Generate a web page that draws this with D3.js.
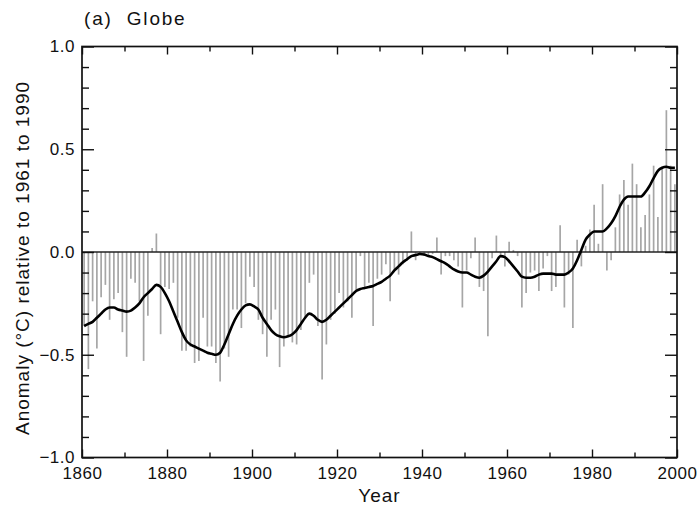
<!DOCTYPE html>
<meta charset="utf-8">
<style>
body{margin:0;background:#fff}
text{font-family:'Liberation Sans',Arial,sans-serif;fill:#111}
</style>
<svg id="svg" width="697" height="509"></svg>
<script src="https://d3js.org/d3.v7.min.js"></script>
<script>

  // annual global anomalies, first value = 1861
  var firstYear = 1861
  var annual = [
    -0.36, -0.57, -0.24, -0.47, -0.22, -0.16, -0.33, -0.23, -0.20, -0.39,  // 1861-1870
    -0.51, -0.13, -0.15, -0.24, -0.53, -0.31,  0.02,  0.09, -0.40, -0.17,  // 1871-1880
    -0.18, -0.15, -0.32, -0.48, -0.48, -0.46, -0.54, -0.53, -0.32, -0.46,  // 1881-1890
    -0.46, -0.54, -0.63, -0.47, -0.51, -0.28, -0.28, -0.37, -0.25, -0.12,  // 1891-1900
    -0.17, -0.33, -0.40, -0.51, -0.33, -0.28, -0.56, -0.46, -0.41, -0.44,  // 1901-1910
    -0.45, -0.38, -0.32, -0.15, -0.11, -0.36, -0.62, -0.45, -0.33, -0.30,  // 1911-1920
    -0.20, -0.27, -0.24, -0.32, -0.19, -0.02, -0.17, -0.15, -0.36, -0.13,  // 1921-1930
    -0.11, -0.06, -0.24, -0.09, -0.11, -0.06, -0.04,  0.10, -0.04, -0.01,  // 1931-1940
    -0.02, -0.02, -0.01,  0.07, -0.11, -0.02, -0.02, -0.04, -0.07, -0.27,  // 1941-1950
    -0.09, -0.03,  0.07, -0.17, -0.19, -0.41, -0.03,  0.08, -0.02, -0.07,  // 1951-1960
     0.05,  0.01, -0.02, -0.27, -0.20, -0.10, -0.09, -0.19, -0.08, -0.02,  // 1961-1970
    -0.19, -0.17,  0.13, -0.27, -0.11, -0.37,  0.06, -0.07,  0.03,  0.11,  // 1971-1980
     0.23,  0.04,  0.33, -0.09, -0.04,  0.12,  0.28,  0.35,  0.23,  0.43,  // 1981-1990
     0.33,  0.12,  0.18,  0.28,  0.42,  0.17,  0.41,  0.69,  0.42,  0.33   // 1991-2000
  ]

  // smoothed curve, same years
  var smooth = [
    -0.36, -0.35, -0.34, -0.32, -0.30, -0.28, -0.27, -0.27, -0.28, -0.285,
    -0.29, -0.285, -0.27, -0.25, -0.22, -0.20, -0.18, -0.16, -0.17, -0.20,
    -0.24, -0.29, -0.34, -0.39, -0.43, -0.45, -0.46, -0.47, -0.48, -0.49,
    -0.495, -0.50, -0.49, -0.45, -0.40, -0.35, -0.31, -0.28, -0.26, -0.255,
    -0.265, -0.28, -0.32, -0.35, -0.38, -0.40, -0.41, -0.415, -0.41, -0.40,
    -0.38, -0.35, -0.32, -0.30, -0.31, -0.33, -0.34, -0.33, -0.31, -0.29,
    -0.27, -0.25, -0.23, -0.21, -0.19, -0.18, -0.175, -0.17, -0.165, -0.155,
    -0.145, -0.13, -0.115, -0.09, -0.07, -0.05, -0.035, -0.02, -0.015, -0.01,
    -0.012, -0.02, -0.025, -0.035, -0.045, -0.055, -0.07, -0.085, -0.095, -0.10,
    -0.10, -0.11, -0.12, -0.125, -0.115, -0.095, -0.07, -0.045, -0.02, -0.025,
    -0.045, -0.07, -0.095, -0.12, -0.125, -0.125, -0.12, -0.11, -0.105, -0.105,
    -0.105, -0.11, -0.11, -0.11, -0.10, -0.08, -0.04, 0.01, 0.06, 0.085,
    0.10, 0.10, 0.10, 0.115, 0.14, 0.175, 0.22, 0.255, 0.27, 0.27,
    0.27, 0.27, 0.29, 0.32, 0.36, 0.395, 0.41, 0.415, 0.41, 0.41
  ]

  var xLabels = [1860, 1880, 1900, 1920, 1940, 1960, 1980, 2000]
  var xMinor = [1870, 1890, 1910, 1930, 1950, 1970, 1990]
  var yLabels = [-1.0, -0.5, 0.0, 0.5, 1.0]
  var yMinor = [-0.9, -0.8, -0.7, -0.6, -0.4, -0.3, -0.2, -0.1, 0.1, 0.2, 0.3, 0.4, 0.6, 0.7, 0.8, 0.9]

  var title = '(a)  Globe'
  var xTitle = 'Year'
  var yTitle = 'Anomaly (\u00B0C) relative to 1961 to 1990'

  // plot box
  var pL = 82, pR = 677, pT = 46.5, pB = 457.5

  var x = d3.scaleLinear().domain([1860, 2000]).range([pL, pR])
  var y = d3.scaleLinear().domain([-1, 1]).range([pB, pT])

  var data = annual.map((v, i) => ({year: firstYear + i, value: v, smooth: smooth[i]}))

  var svg = d3.select('#svg')

  // annual bars (drawn half a year to the left, as in the original)
  svg.append('g')
    .selectAll('line')
    .data(data)
    .enter().append('line')
      .attr('x1', d => x(d.year - 0.5))
      .attr('x2', d => x(d.year - 0.5))
      .attr('y1', y(0))
      .attr('y2', d => y(d.value))
      .attr('stroke', '#a6a6a6')
      .attr('stroke-width', 1.7)

  // zero line
  svg.append('line')
    .attr('x1', pL).attr('x2', pR)
    .attr('y1', y(0)).attr('y2', y(0))
    .attr('stroke', '#222').attr('stroke-width', 1.7)

  // smoothed curve
  var line = d3.line()
    .x(d => x(d.year - 0.5))
    .y(d => y(d.smooth))
    .curve(d3.curveMonotoneX)

  svg.append('path')
    .datum(data)
    .attr('d', line)
    .attr('fill', 'none')
    .attr('stroke', '#000')
    .attr('stroke-width', 2.6)
    .attr('stroke-linejoin', 'round')

  // axes, ticks pointing inward
  function axisStyle(g) {
    g.select('.domain').remove()
    g.selectAll('line').attr('stroke', '#111').attr('stroke-width', 1.4)
    g.selectAll('text').style('font-size', '17px').style('letter-spacing', '0.5px').attr('fill', '#111')
  }

  svg.append('g').attr('transform', 'translate(0,' + pB + ')')
    .call(d3.axisBottom(x).tickValues(xLabels).tickSize(-8).tickPadding(9).tickFormat(d3.format('d')))
    .call(axisStyle)
  svg.append('g').attr('transform', 'translate(0,' + pB + ')')
    .call(d3.axisBottom(x).tickValues(xMinor).tickSize(-5).tickFormat(''))
    .call(axisStyle)
  svg.append('g').attr('transform', 'translate(0,' + pT + ')')
    .call(d3.axisTop(x).tickValues(xLabels).tickSize(-8).tickFormat(''))
    .call(axisStyle)
  svg.append('g').attr('transform', 'translate(0,' + pT + ')')
    .call(d3.axisTop(x).tickValues(xMinor).tickSize(-5).tickFormat(''))
    .call(axisStyle)

  svg.append('g').attr('transform', 'translate(' + pL + ',0)')
    .call(d3.axisLeft(y).tickValues(yLabels).tickSize(-12).tickPadding(7).tickFormat(d3.format('.1f')))
    .call(axisStyle)
  svg.append('g').attr('transform', 'translate(' + pL + ',0)')
    .call(d3.axisLeft(y).tickValues(yMinor).tickSize(-7).tickFormat(''))
    .call(axisStyle)
  svg.append('g').attr('transform', 'translate(' + pR + ',0)')
    .call(d3.axisRight(y).tickValues(yLabels).tickSize(-12).tickFormat(''))
    .call(axisStyle)
  svg.append('g').attr('transform', 'translate(' + pR + ',0)')
    .call(d3.axisRight(y).tickValues(yMinor).tickSize(-7).tickFormat(''))
    .call(axisStyle)

  // frame
  svg.append('rect')
    .attr('x', pL).attr('y', pT)
    .attr('width', pR - pL).attr('height', pB - pT)
    .attr('fill', 'none').attr('stroke', '#111').attr('stroke-width', 1.7)

  // titles
  svg.append('text')
    .attr('x', 84).attr('y', 25)
    .style('font-size', '19px')
    .style('letter-spacing', '1.8px')
    .style('white-space', 'pre')
    .text(title)

  svg.append('text')
    .attr('x', (pL + pR) / 2).attr('y', 502)
    .attr('text-anchor', 'middle')
    .style('font-size', '19px')
    .style('letter-spacing', '1px')
    .text(xTitle)

  svg.append('text')
    .attr('transform', 'translate(29,258) rotate(-90)')
    .attr('text-anchor', 'middle')
    .style('font-size', '19px')
    .style('letter-spacing', '1px')
    .text(yTitle)

</script>
